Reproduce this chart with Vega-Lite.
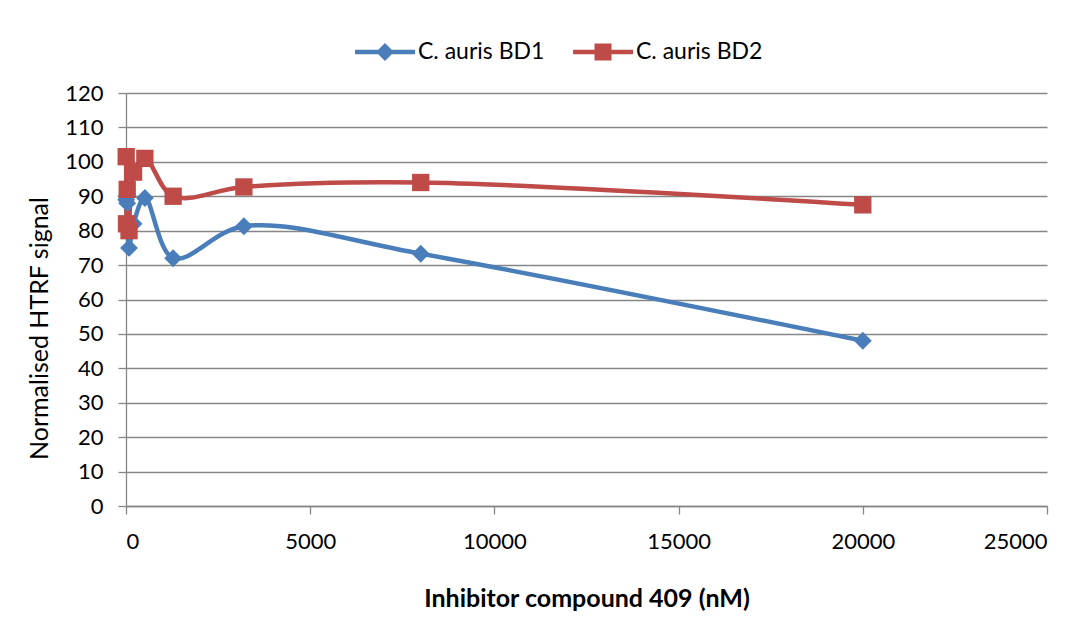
{
  "$schema": "https://vega.github.io/schema/vega-lite/v6.json",
  "width": 921,
  "height": 413,
  "autosize": {"type": "none"},
  "padding": {"left": 126, "top": 93, "right": 44, "bottom": 113},
  "background": "white",
  "config": {
    "view": {"stroke": null},
    "font": "Lato",
    "axis": {
      "domainColor": "#868686",
      "domainWidth": 1.3,
      "tickColor": "#868686",
      "tickWidth": 1.3,
      "tickSize": 8,
      "gridColor": "#868686",
      "gridWidth": 1.3,
      "labelFont": "Lato",
      "labelFontSize": 22,
      "labelColor": "#000000",
      "titleFont": "Lato",
      "titleColor": "#000000"
    }
  },
  "data": {
    "values": [
      {"conc": 5.24, "signal": 89, "strain": "C. auris BD1"},
      {"conc": 13.1, "signal": 90, "strain": "C. auris BD1"},
      {"conc": 32.77, "signal": 88, "strain": "C. auris BD1"},
      {"conc": 81.92, "signal": 75, "strain": "C. auris BD1"},
      {"conc": 204.8, "signal": 82, "strain": "C. auris BD1"},
      {"conc": 512, "signal": 89.5, "strain": "C. auris BD1"},
      {"conc": 1280, "signal": 72, "strain": "C. auris BD1"},
      {"conc": 3200, "signal": 81.3, "strain": "C. auris BD1"},
      {"conc": 8000, "signal": 73.3, "strain": "C. auris BD1"},
      {"conc": 20000, "signal": 48, "strain": "C. auris BD1"},
      {"conc": 5.24, "signal": 101.5, "strain": "C. auris BD2"},
      {"conc": 13.1, "signal": 82, "strain": "C. auris BD2"},
      {"conc": 32.77, "signal": 92, "strain": "C. auris BD2"},
      {"conc": 81.92, "signal": 80, "strain": "C. auris BD2"},
      {"conc": 204.8, "signal": 97, "strain": "C. auris BD2"},
      {"conc": 512, "signal": 101, "strain": "C. auris BD2"},
      {"conc": 1280, "signal": 90, "strain": "C. auris BD2"},
      {"conc": 3200, "signal": 92.7, "strain": "C. auris BD2"},
      {"conc": 8000, "signal": 94, "strain": "C. auris BD2"},
      {"conc": 20000, "signal": 87.5, "strain": "C. auris BD2"}
    ]
  },
  "encoding": {
    "x": {
      "field": "conc",
      "type": "quantitative",
      "scale": {"domain": [0, 25000], "nice": false},
      "axis": {
        "title": "Inhibitor compound 409 (nM)",
        "titleFontSize": 25,
        "titleFontWeight": "bold",
        "titleY": 92,
        "titleBaseline": "middle",
        "values": [0, 5000, 10000, 15000, 20000, 25000],
        "format": "d",
        "grid": false,
        "labelPadding": 17
      }
    },
    "y": {
      "field": "signal",
      "type": "quantitative",
      "scale": {"domain": [0, 120], "nice": false},
      "axis": {
        "title": "Normalised HTRF signal",
        "titleFontSize": 25,
        "titleFontWeight": "normal",
        "titleX": -74,
        "titleY": 235,
        "titleBaseline": "bottom",
        "titleAlign": "center",
        "values": [0, 10, 20, 30, 40, 50, 60, 70, 80, 90, 100, 110, 120],
        "grid": true,
        "labelPadding": 15
      }
    }
  },
  "layer": [
    {
      "mark": {"type": "line", "interpolate": "catmull-rom", "strokeWidth": 4.5},
      "encoding": {
        "stroke": {
          "field": "strain",
          "type": "nominal",
          "scale": {"domain": ["C. auris BD1", "C. auris BD2"], "range": ["#4A7EBB", "#BE4B48"]},
          "legend": {
            "title": null,
            "orient": "none",
            "direction": "horizontal",
            "legendX": 229,
            "legendY": -71,
            "labelFontSize": 23,
            "labelColor": "#000000",
            "labelFont": "Lato",
            "symbolSize": 3600,
            "labelOffset": 3,
            "columnPadding": 28,
            "encode": {
              "symbols": {
                "update": {
                  "shape": {"signal": "datum.value == 'C. auris BD1' ? 'M-1,-0.075 L-0.225,-0.075 L0,-0.3 L0.225,-0.075 L1,-0.075 L1,0.075 L0.225,0.075 L0,0.3 L-0.225,0.075 L-1,0.075 Z' : 'M-1,-0.075 L-0.283,-0.075 L-0.283,-0.283 L0.283,-0.283 L0.283,-0.075 L1,-0.075 L1,0.075 L0.283,0.075 L0.283,0.283 L-0.283,0.283 L-0.283,0.075 L-1,0.075 Z'"},
                  "fill": {"signal": "datum.value == 'C. auris BD1' ? '#4A7EBB' : '#BE4B48'"},
                  "fillOpacity": {"value": 1},
                  "strokeWidth": {"value": 0},
                  "size": {"value": 3600}
                }
              }
            }
          }
        }
      }
    },
    {
      "transform": [{"filter": "datum.strain == 'C. auris BD1'"}],
      "mark": {"type": "point", "shape": "diamond", "filled": true, "opacity": 1, "strokeWidth": 0, "color": "#4A7EBB", "size": 320}
    },
    {
      "transform": [{"filter": "datum.strain == 'C. auris BD2'"}],
      "mark": {"type": "point", "shape": "square", "filled": true, "opacity": 1, "strokeWidth": 0, "color": "#BE4B48", "size": 300}
    }
  ]
}
